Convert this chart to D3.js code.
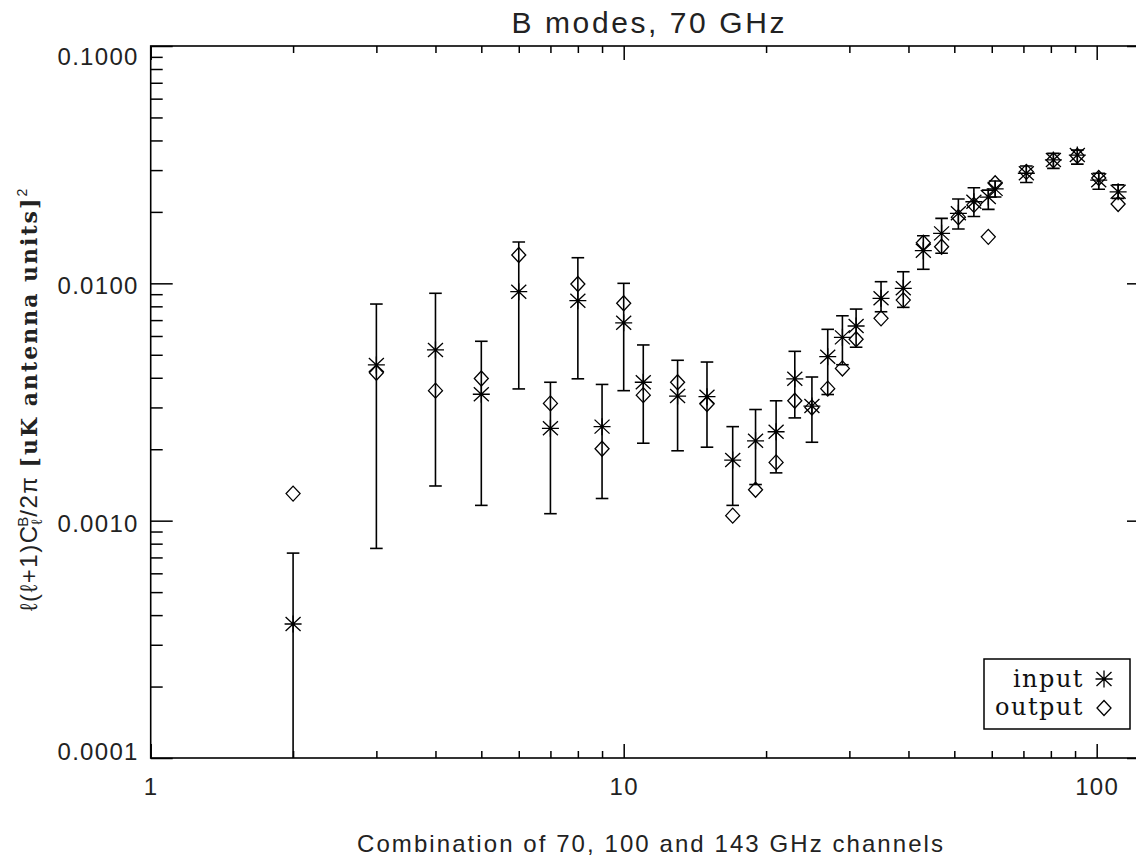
<!DOCTYPE html>
<html>
<head>
<meta charset="utf-8">
<script src="https://cdn.jsdelivr.net/npm/d3@7"></script>
<style>
  body { margin: 0; background: #fff; }
  svg { display: block; }
</style>
</head>
<body>
<div id="chart"></div>
<script>
// multipole bins and the B-mode spectra
const ells = [2, 3, 4, 5, 6, 7, 8, 9, 10, 11, 13, 15, 17, 19, 21, 23, 25, 27, 29, 31,
              35, 39, 43, 47, 51, 55, 59, 61, 71, 81, 91, 101, 111];
const inputVals = [3.67e-4, 4.53e-3, 5.24e-3, 3.41e-3, 9.22e-3, 2.45e-3, 8.45e-3, 2.49e-3, 6.82e-3, 3.83e-3,
                   3.35e-3, 3.33e-3, 1.80e-3, 2.17e-3, 2.37e-3, 3.96e-3, 3.04e-3, 4.91e-3, 5.92e-3, 6.61e-3,
                   8.65e-3, 9.53e-3, 1.373e-2, 1.624e-2, 1.972e-2, 2.207e-2, 2.31e-2, 2.50e-2, 2.91e-2, 3.31e-2,
                   3.47e-2, 2.72e-2, 2.43e-2];
const outputVals = [1.30e-3, 4.20e-3, 3.53e-3, 3.97e-3, 1.316e-2, 3.12e-3, 9.93e-3, 2.01e-3, 8.24e-3, 3.38e-3,
                    3.83e-3, 3.10e-3, 1.05e-3, 1.35e-3, 1.76e-3, 3.20e-3, 3.00e-3, 3.60e-3, 4.38e-3, 5.81e-3,
                    7.12e-3, 8.50e-3, 1.483e-2, 1.426e-2, 1.90e-2, 2.14e-2, 1.57e-2, 2.64e-2, 2.95e-2, 3.30e-2,
                    3.45e-2, 2.78e-2, 2.16e-2];
const errLow = [4e-6, 7.64e-4, 1.40e-3, 1.16e-3, 3.59e-3, 1.07e-3, 3.96e-3, 1.24e-3, 3.53e-3, 2.12e-3,
                1.97e-3, 2.04e-3, 1.16e-3, 1.42e-3, 1.59e-3, 2.71e-3, 2.14e-3, 3.40e-3, 4.54e-3, 5.38e-3,
                7.59e-3, 7.92e-3, 1.146e-2, 1.338e-2, 1.694e-2, 1.912e-2, 2.05e-2, 2.31e-2, 2.66e-2, 3.05e-2,
                3.18e-2, 2.49e-2, 2.28e-2];
const errHigh = [7.30e-4, 8.18e-3, 9.08e-3, 5.70e-3, 1.493e-2, 3.83e-3, 1.282e-2, 3.75e-3, 1.00e-2, 5.50e-3,
                 4.74e-3, 4.66e-3, 2.49e-3, 2.94e-3, 3.20e-3, 5.17e-3, 4.03e-3, 6.40e-3, 7.30e-3, 7.79e-3,
                 1.016e-2, 1.119e-2, 1.587e-2, 1.878e-2, 2.266e-2, 2.528e-2, 2.47e-2, 2.70e-2, 3.12e-2, 3.53e-2,
                 3.64e-2, 2.91e-2, 2.60e-2];

const xTickVals = [1, 10, 100];
const xTickLabels = ["1", "10", "100"];
const yTickVals = [0.0001, 0.001, 0.01, 0.1];
const yTickLabels = ["0.0001", "0.0010", "0.0100", "0.1000"];
const legendLabels = ["input", "output"];

const W = 1136, H = 857;
const SANS = "'Liberation Sans', Arial, 'DejaVu Sans', sans-serif";
const SERIF = "'DejaVu Serif', 'Liberation Serif', serif";

const svg = d3.select("#chart")
  .append("svg")
    .attr("width", W)
    .attr("height", H);

const x = d3.scaleLog().domain([1, 129]).range([150.7, 1149]);
const y = d3.scaleLog().domain([0.0001, 0.1]).range([758, 46]);
const [x0, x1] = x.range();
const [y1, y0] = y.range();

// minor ticks 2..9 per decade
const xMinor = [], yMinor = [];
[1, 10, 100].forEach(d => { for (let k = 2; k < 10; k++) if (d * k < 129) xMinor.push(d * k); });
[0.0001, 0.001, 0.01].forEach(d => { for (let k = 2; k < 10; k++) yMinor.push(d * k); });

function styleAxis(g) {
  g.select(".domain").remove();
  g.selectAll(".tick line").attr("stroke", "#000").attr("stroke-width", 1.5);
}

// bottom axis
svg.append("g")
  .attr("transform", "translate(0," + y1 + ")")
  .call(d3.axisBottom(x).tickValues(xMinor).tickSize(-7).tickFormat(""))
  .call(styleAxis);
const xAxisG = svg.append("g")
  .attr("transform", "translate(0," + y1 + ")")
  .call(d3.axisBottom(x).tickValues(xTickVals).tickSize(-14).tickFormat((d, i) => xTickLabels[i]))
  .call(styleAxis);
xAxisG.selectAll("text")
  .attr("y", 37)
  .attr("dy", 0)
  .attr("font-family", SANS)
  .attr("font-size", 24)
  .attr("letter-spacing", 1.3)
  .attr("fill", "#222");

// top axis, ticks only
svg.append("g")
  .attr("transform", "translate(0," + y0 + ")")
  .call(d3.axisTop(x).tickValues(xMinor).tickSize(-7).tickFormat(""))
  .call(styleAxis);
svg.append("g")
  .attr("transform", "translate(0," + y0 + ")")
  .call(d3.axisTop(x).tickValues(xTickVals).tickSize(-14).tickFormat(""))
  .call(styleAxis);

// left axis
svg.append("g")
  .attr("transform", "translate(" + x0 + ",0)")
  .call(d3.axisLeft(y).tickValues(yMinor).tickSize(-12).tickFormat(""))
  .call(styleAxis);
const yAxisG = svg.append("g")
  .attr("transform", "translate(" + x0 + ",0)")
  .call(d3.axisLeft(y).tickValues(yTickVals).tickSize(-22).tickPadding(12).tickFormat((d, i) => yTickLabels[i]))
  .call(styleAxis);
yAxisG.selectAll("text")
  .attr("dy", null)
  .attr("y", d => Math.min(Math.max(y(d) + 10.5, y0 + 18), y1 + 1) - y(d))
  .attr("font-family", SANS)
  .attr("font-size", 24)
  .attr("letter-spacing", 1.3)
  .attr("fill", "#222");

// right axis, ticks only
svg.append("g")
  .attr("transform", "translate(" + x1 + ",0)")
  .call(d3.axisRight(y).tickValues(yMinor).tickSize(-12).tickFormat(""))
  .call(styleAxis);
svg.append("g")
  .attr("transform", "translate(" + x1 + ",0)")
  .call(d3.axisRight(y).tickValues(yTickVals).tickSize(-22).tickFormat(""))
  .call(styleAxis);

// frame
svg.append("rect")
  .attr("x", x0).attr("y", y0)
  .attr("width", x1 - x0).attr("height", y1 - y0)
  .attr("fill", "none")
  .attr("stroke", "#000")
  .attr("stroke-width", 1.6);

svg.append("clipPath").attr("id", "plotclip")
  .append("rect")
    .attr("x", x0).attr("y", y0)
    .attr("width", x1 - x0).attr("height", y1 - y0);

const plot = svg.append("g").attr("clip-path", "url(#plotclip)");

const rows = ells.map((l, i) => ({l: l, inp: inputVals[i], out: outputVals[i], lo: errLow[i], hi: errHigh[i]}));

// error bars with caps
const capW = 6.3;
const bars = plot.selectAll("g.bar")
  .data(rows)
  .enter()
  .append("g")
    .attr("class", "bar")
    .attr("stroke", "#000")
    .attr("stroke-width", 1.6);
bars.append("line")
  .attr("x1", d => x(d.l)).attr("x2", d => x(d.l))
  .attr("y1", d => y(d.hi)).attr("y2", d => y(d.lo));
bars.append("line")
  .attr("x1", d => x(d.l) - capW).attr("x2", d => x(d.l) + capW)
  .attr("y1", d => y(d.hi)).attr("y2", d => y(d.hi));
bars.append("line")
  .attr("x1", d => x(d.l) - capW).attr("x2", d => x(d.l) + capW)
  .attr("y1", d => y(d.lo)).attr("y2", d => y(d.lo));

const starPath = "M-8.5,0H8.5M0,-8.5V8.5M-7.5,-7L7.5,7M-7.5,7L7.5,-7";
const diamondPath = "M0,-7.5L7,0L0,7.5L-7,0Z";

plot.selectAll("path.out")
  .data(rows)
  .enter()
  .append("path")
    .attr("class", "out")
    .attr("d", diamondPath)
    .attr("transform", d => "translate(" + x(d.l) + "," + y(d.out) + ")")
    .attr("fill", "none")
    .attr("stroke", "#000")
    .attr("stroke-width", 1.3);

plot.selectAll("path.inp")
  .data(rows)
  .enter()
  .append("path")
    .attr("class", "inp")
    .attr("d", starPath)
    .attr("transform", d => "translate(" + x(d.l) + "," + y(d.inp) + ")")
    .attr("fill", "none")
    .attr("stroke", "#000")
    .attr("stroke-width", 1.3);

// legend
svg.append("rect")
  .attr("x", 984).attr("y", 659)
  .attr("width", 146).attr("height", 70)
  .attr("fill", "#fff")
  .attr("stroke", "#000")
  .attr("stroke-width", 1.5);
const legendY = [687, 715];
svg.selectAll("text.leg")
  .data(legendLabels)
  .enter()
  .append("text")
    .attr("class", "leg")
    .attr("x", 1084)
    .attr("y", (d, i) => legendY[i])
    .attr("text-anchor", "end")
    .attr("font-family", SERIF)
    .attr("font-size", 24)
    .attr("letter-spacing", 1.5)
    .attr("fill", "#111")
    .text(d => d);
svg.append("path")
  .attr("d", starPath)
  .attr("transform", "translate(1104,679)")
  .attr("fill", "none").attr("stroke", "#000").attr("stroke-width", 1.3);
svg.append("path")
  .attr("d", diamondPath)
  .attr("transform", "translate(1104,708)")
  .attr("fill", "none").attr("stroke", "#000").attr("stroke-width", 1.3);

// title and axis titles
svg.append("text")
  .attr("x", 648).attr("y", 33)
  .attr("text-anchor", "middle")
  .attr("font-family", SANS)
  .attr("font-size", 30)
  .attr("textLength", 273)
  .attr("lengthAdjust", "spacing")
  .attr("fill", "#222")
  .text("B modes, 70 GHz");

svg.append("text")
  .attr("x", 650).attr("y", 852)
  .attr("text-anchor", "middle")
  .attr("font-family", SANS)
  .attr("font-size", 24)
  .attr("textLength", 586)
  .attr("lengthAdjust", "spacing")
  .attr("fill", "#222")
  .text("Combination of 70, 100 and 143 GHz channels");

const yLab = svg.append("text")
  .attr("transform", "translate(37,400) rotate(-90)")
  .attr("text-anchor", "middle")
  .attr("font-family", SANS)
  .attr("fill", "#222");
yLab.append("tspan").attr("font-size", 24).attr("letter-spacing", 1.5).text("ℓ(ℓ+1)C");
yLab.append("tspan").attr("font-size", 15).attr("dy", 5).text("ℓ");
yLab.append("tspan").attr("font-size", 15).attr("dx", -7).attr("dy", -14).text("B");
yLab.append("tspan").attr("font-size", 24).attr("dy", 9).attr("letter-spacing", 1.5).text("/2π ");
yLab.append("tspan")
  .attr("font-family", SERIF)
  .attr("font-weight", "bold")
  .attr("font-size", 22)
  .attr("letter-spacing", 2)
  .text("[uK antenna units]");
yLab.append("tspan").attr("font-size", 14).attr("dy", -10).text("2");
</script>
</body>
</html>
